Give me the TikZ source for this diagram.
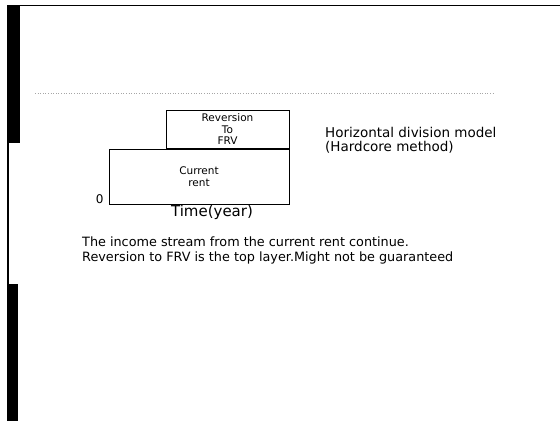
\documentclass[tikz,border=0pt]{standalone}
\usepackage{fontspec}
\setmainfont{DejaVu Sans}
\usetikzlibrary{positioning}

\begin{document}
\begin{tikzpicture}[
    x=1pt, y=-1pt,
    layerbox/.style={rectangle, draw=black, line width=0.8pt,
                 inner sep=0pt, align=center, font=\fontsize{10.5}{11.5}\selectfont},
    note/.style={align=left, anchor=north west, inner sep=0pt,
                 font=\fontsize{13.5}{14.5}\selectfont},
    axislabel/.style={inner sep=1pt, font=\fontsize{15}{16}\selectfont}
]
\useasboundingbox (0,0) rectangle (560,421);
% scanner edges
\fill[black] (7,5) rectangle (20,143);
\fill[black] (7,143) rectangle (9,421);
\fill[black] (9,284) rectangle (18,421);
\draw[black, line width=1pt] (7,5) -- (560,5);
\draw[black!35, dotted, line width=0.6pt] (35,93) -- (495,93);

% layers
\node[layerbox, minimum width=180pt, minimum height=55pt] (current) at (199,176.5) {Current\\rent};
\node[layerbox, minimum width=123pt, minimum height=38pt, anchor=south east] (reversion)
    at (current.north east) {Reversion\\To\\FRV};
\node[axislabel, font=\fontsize{12}{14}\selectfont, left=4pt of current.south west, anchor=south east] (zero) {0};
\node[axislabel, below=-1pt of current.south, xshift=13pt] (time) {Time(year)};

\node[note] (model) at (325,127) {Horizontal division model\\(Hardcore method)};
\node[note, font=\fontsize{12.8}{15}\selectfont] (caption) at (82,237) {The income stream from the current rent continue.\\
Reversion to FRV is the top layer.Might not be guaranteed};
\end{tikzpicture}
\end{document}
